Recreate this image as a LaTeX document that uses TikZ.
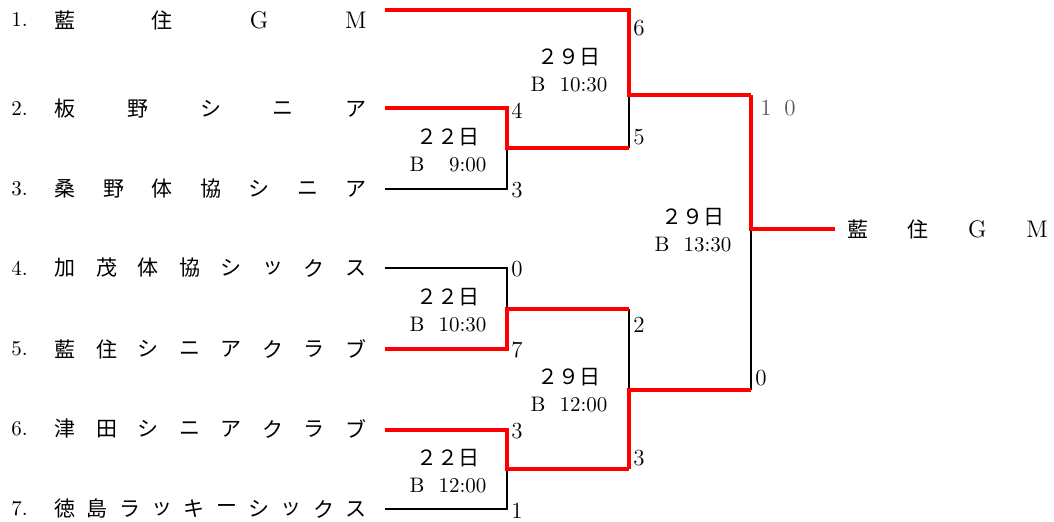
\documentclass[tikz,border=0pt]{standalone}
\usepackage{fontspec}
\newfontfamily\jp{Noto Sans CJK JP}
\usetikzlibrary{calc}

\begin{document}
\begin{tikzpicture}[x=0.5pt,y=-0.5pt,font=\fontsize{10.5}{13.3}\selectfont,
    win/.style={red, line width=2.2pt},
    lose/.style={black, line width=0.8pt},
    score/.style={anchor=west, inner sep=0pt, font=\fontsize{11.5}{13}\selectfont},
    datebox/.style={align=center, inner sep=0pt}]
    \useasboundingbox (0,0) rectangle (1054,522);

		% team names, spread out
		\foreach \y/\n/\k/\names in {20/1/4/{藍,住,\textrm{\large G},\textrm{\large M}},
			109/2/5/{板,野,シ,ニ,ア},
			189/3/7/{桑,野,体,協,シ,ニ,ア},
			268/4/8/{加,茂,体,協,シ,ッ,ク,ス},
			349/5/8/{藍,住,シ,ニ,ア,ク,ラ,ブ},
			429/6/8/{津,田,シ,ニ,ア,ク,ラ,ブ},
			509/7/10/{徳,島,ラ,ッ,キ,ー,シ,ッ,ク,ス}}{
			\node [anchor=west, inner sep=0pt] (no\n) at (11,\y) {\n.};
			\foreach \c [count=\i from 0] in \names
				\node [inner sep=0pt] (team\n-\i) at ({65+\i*291/(\k-1)},\y) {\jp \c};
		}

		\coordinate (e1) at (385,10);
		\coordinate (e2) at (385,108);
		\coordinate (e3) at (385,189);
		\coordinate (e4) at (385,268);
		\coordinate (e5) at (385,349);
		\coordinate (e6) at (385,430);
		\coordinate (e7) at (385,509);

		\coordinate (r1a) at (507,108);
		\coordinate (r1b) at (507,189);
		\coordinate (m1) at (507,148);
		\coordinate (r1c) at (507,268);
		\coordinate (r1d) at (507,349);
		\coordinate (m2) at (507,309);
		\coordinate (r1e) at (507,430);
		\coordinate (r1f) at (507,509);
		\coordinate (m3) at (507,469);

		\coordinate (r2a) at (629,10);
		\coordinate (r2b) at (629,148);
		\coordinate (m4) at (629,95);
		\coordinate (r2c) at (629,309);
		\coordinate (r2d) at (629,469);
		\coordinate (m5) at (629,390);

		\coordinate (r3a) at (751,95);
		\coordinate (r3b) at (751,390);
		\coordinate (m6) at (751,229);
		\coordinate (W) at (835,229);

		\draw [lose] (e3) -- (r1b) -- (m1);
		\draw [lose] (e4) -- (r1c) -- (m2);
		\draw [lose] (e7) -- (r1f) -- (m3);
		\draw [lose] (r2b) -- (m4);
		\draw [lose] (r2c) -- (m5);
		\draw [lose] (r3b) -- (m6);

		\draw [win] (e2) -- (r1a) -- (m1) -- (r2b);
		\draw [win] (e5) -- (r1d) -- (m2) -- (r2c);
		\draw [win] (e6) -- (r1e) -- (m3) -- (r2d);
		\draw [win] (e1) -- (r2a) -- (m4) -- (r3a);
		\draw [win] (r2d) -- (m5) -- (r3b);
		\draw [win] (r3a) -- (m6) -- (W);

		% scores
		\node [score] (s1) at (633,28) {6};
		\node [score] (s2) at (511,111) {4};
		\node [score] (s3) at (633,137) {5};
		\node [score] (s4) at (511,190) {3};
		\node [score, black!65] (s5) at (760,108) {1\hspace{0.55em}0};
		\node [score] (s6) at (511,269) {0};
		\node [score] (s7) at (511,350) {7};
		\node [score] (s8) at (633,325) {2};
		\node [score] (s9) at (755,378) {0};
		\node [score] (s10) at (511,431) {3};
		\node [score] (s11) at (511,511) {1};
		\node [score] (s12) at (633,458) {3};

		% dates
		\node [datebox] (d1) at (448,150) {{\jp ２２日}\\B\ \ \phantom{1}9:00};
		\node [datebox] (d2) at (448,310) {{\jp ２２日}\\B\ \ 10:30};
		\node [datebox] (d3) at (448,471) {{\jp ２２日}\\B\ \ 12:00};
		\node [datebox] (d4) at (569,70) {{\jp ２９日}\\B\ \ 10:30};
		\node [datebox] (d5) at (569,390) {{\jp ２９日}\\B\ \ 12:00};
		\node [datebox] (d6) at (693,230) {{\jp ２９日}\\B\ \ 13:30};

		% winner
		\foreach \c [count=\i from 0] in {藍,住,\textrm{\large G},\textrm{\large M}}
			\node [inner sep=0pt] (champ-\i) at ({858+\i*59.7},229) {\jp \c};

\end{tikzpicture}
\end{document}
